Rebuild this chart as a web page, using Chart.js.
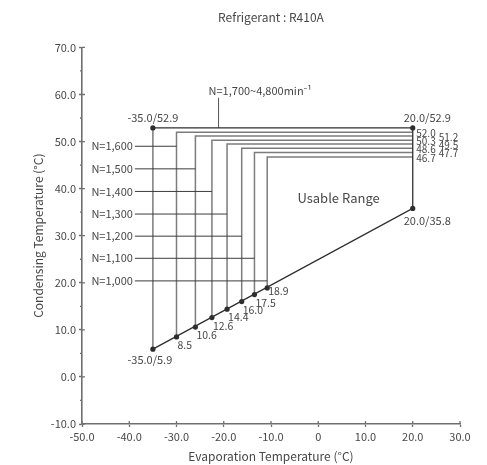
<!DOCTYPE html>
<html><head><meta charset="utf-8">
<script src="https://cdn.jsdelivr.net/npm/chart.js@4"></script>
<style>html,body{margin:0;padding:0;background:#fff}canvas{display:block}</style>
</head><body>
<canvas id="c" width="487" height="465"></canvas>
<script>
const chartTitle = 'Refrigerant : R410A';
const xTitle = 'Evaporation Temperature (°C)';
const yTitle = 'Condensing Temperature (°C)';
const envelopeEvap = [-35.0, -35.0, 20.0, 20.0];
const envelopeCond = [5.9, 52.9, 52.9, 35.8];
const envelopeLabels = ['-35.0/5.9', '-35.0/52.9', '20.0/52.9', '20.0/35.8'];
const speedLabels = ['N=1,600', 'N=1,500', 'N=1,400', 'N=1,300', 'N=1,200', 'N=1,100', 'N=1,000'];
const speedEvap = [-30.0, -26.0, -22.5, -19.3, -16.2, -13.5, -10.8];
const speedLowCond = [8.5, 10.6, 12.6, 14.4, 16.0, 17.5, 18.9];
const speedHighCond = [52.0, 51.2, 50.3, 49.5, 48.6, 47.7, 46.7];
const speedLabelCond = [49.0, 44.2, 39.4, 34.6, 29.9, 25.2, 20.4];
const leaderStartEvap = -38.8;
const maxSpeedLabel = 'N=1,700~4,800min\u207B\u00B9';
const maxSpeedEvap = -21.1;
const maxSpeedCond = 59.3;
const regionLabel = 'Usable Range';
const regionLabelEvap = 4.3;
const regionLabelCond = 37.9;

const FONT = "'Noto Sans CJK JP', 'Noto Sans', sans-serif";
const GRAY = '#7c7c7c', DARK = '#2e2e2e', AXIS = '#707070', TEXT = '#474747';
const pt = (x, y) => ({x, y});
const datasets = [];
const line = (data, color, width, order) => datasets.push({data, showLine: true, borderColor: color, borderWidth: width, pointRadius: 0, fill: false, order});

// operating lines per speed
speedEvap.forEach((x, i) => {
  line([pt(x, speedLowCond[i]), pt(x, speedHighCond[i]), pt(envelopeEvap[2], speedHighCond[i])], GRAY, 1.5, 5);
  line([pt(leaderStartEvap, speedLabelCond[i]), pt(x, speedLabelCond[i])], '#3c3c3c', 1, 4);
});
line([pt(envelopeEvap[0], envelopeCond[0]), pt(envelopeEvap[1], envelopeCond[1])], GRAY, 1.5, 5);
line([pt(maxSpeedEvap, envelopeCond[1]), pt(maxSpeedEvap, maxSpeedCond)], '#555', 1, 4);
line([pt(envelopeEvap[1], envelopeCond[1]), pt(envelopeEvap[2], envelopeCond[2]), pt(envelopeEvap[3], envelopeCond[3]), pt(envelopeEvap[0], envelopeCond[0])], DARK, 1.3, 3);
datasets.push({
  data: envelopeEvap.map((x, i) => pt(x, envelopeCond[i])).concat(speedEvap.map((x, i) => pt(x, speedLowCond[i]))),
  showLine: false, pointRadius: 2.6, pointBackgroundColor: DARK, pointBorderColor: DARK, pointBorderWidth: 0, order: 1
});

const annot = {
  id: 'annot',
  afterDatasetsDraw(chart) {
    const {ctx, scales: {x, y}} = chart;
    const X = v => x.getPixelForValue(v), Y = v => y.getPixelForValue(v);
    ctx.save();
    ctx.fillStyle = TEXT;
    ctx.textBaseline = 'middle';
    const t = (s, px, py, align, size) => { ctx.font = size + 'px ' + FONT; ctx.textAlign = align; ctx.fillText(s, px, py); };
    t(envelopeLabels[0], X(envelopeEvap[0]) - 3, Y(envelopeCond[0]) + 11, 'center', 11);
    t(envelopeLabels[1], X(envelopeEvap[1]), Y(envelopeCond[1]) - 10, 'center', 11);
    t(envelopeLabels[2], X(envelopeEvap[2]) - 9, Y(envelopeCond[2]) - 10, 'left', 11);
    t(envelopeLabels[3], X(envelopeEvap[3]) - 9, Y(envelopeCond[3]) + 12, 'left', 11);
    speedLowCond.forEach((v, i) => {
      const dy = i === speedLowCond.length - 1 ? 3 : 8;
      t(v.toFixed(1), X(speedEvap[i]) + 1, Y(v) + dy, 'left', 10.5);
    });
    speedHighCond.forEach((v, i) => {
      t(v.toFixed(1), X(envelopeEvap[2]) + (i % 2 === 0 ? 3.5 : 26), Y(v) + 1, 'left', 10);
    });
    speedLabels.forEach((s, i) => t(s, X(leaderStartEvap) - 2, Y(speedLabelCond[i]), 'right', 11));
    t(maxSpeedLabel, X(maxSpeedEvap) - 10, Y(maxSpeedCond) - 7, 'left', 11);
    t(regionLabel, X(regionLabelEvap), Y(regionLabelCond), 'center', 13);
    ctx.restore();
  },
  afterDraw(chart) {
    const {ctx, scales: {x, y}} = chart;
    ctx.save();
    ctx.strokeStyle = AXIS; ctx.lineWidth = 1.3;
    ctx.beginPath();
    x.ticks.forEach(tk => { const px = x.getPixelForValue(tk.value); ctx.moveTo(px, x.top); ctx.lineTo(px, x.top - 3); });
    y.ticks.forEach(tk => { const py = y.getPixelForValue(tk.value); ctx.moveTo(y.right, py); ctx.lineTo(y.right + 3, py); });
    for (let v = y.min + 5; v < y.max; v += 10) { const py = y.getPixelForValue(v); ctx.moveTo(y.right - 2, py); ctx.lineTo(y.right, py); }
    ctx.stroke();
    ctx.restore();
  }
};

new Chart(document.getElementById('c'), {
  type: 'scatter',
  data: {datasets},
  plugins: [annot],
  options: {
    responsive: false, animation: false, devicePixelRatio: 1,
    layout: {padding: {left: 0, right: 27, top: 0, bottom: 0}},
    plugins: {
      legend: {display: false}, tooltip: {enabled: false},
      title: {display: true, text: chartTitle, fullSize: false, color: TEXT, font: {family: FONT, size: 12, weight: 'normal'}, padding: {top: 10, bottom: 23}}
    },
    scales: {
      x: {
        type: 'linear', min: -50, max: 30,
        ticks: {stepSize: 10, color: TEXT, padding: 3, font: {family: FONT, size: 11}, maxRotation: 0,
          callback: v => v === 0 ? '0' : v.toFixed(1)},
        grid: {drawOnChartArea: false, tickLength: 3, color: AXIS, tickWidth: 1.3},
        border: {color: AXIS, width: 1.6},
        title: {display: true, text: xTitle, color: TEXT, font: {family: FONT, size: 12}, padding: {top: 0, bottom: 1}},
        afterFit: s => { s.height = 41; }
      },
      y: {
        type: 'linear', min: -10, max: 70,
        ticks: {stepSize: 10, color: TEXT, padding: 3, font: {family: FONT, size: 11}, callback: v => v.toFixed(1)},
        grid: {drawOnChartArea: false, tickLength: 3, color: AXIS, tickWidth: 1.3},
        border: {color: AXIS, width: 1.6},
        title: {display: true, text: yTitle, color: TEXT, font: {family: FONT, size: 12}, padding: {top: 31, bottom: 0}},
        afterFit: s => { s.width = 82; }
      }
    }
  }
});
</script>
</body></html>
